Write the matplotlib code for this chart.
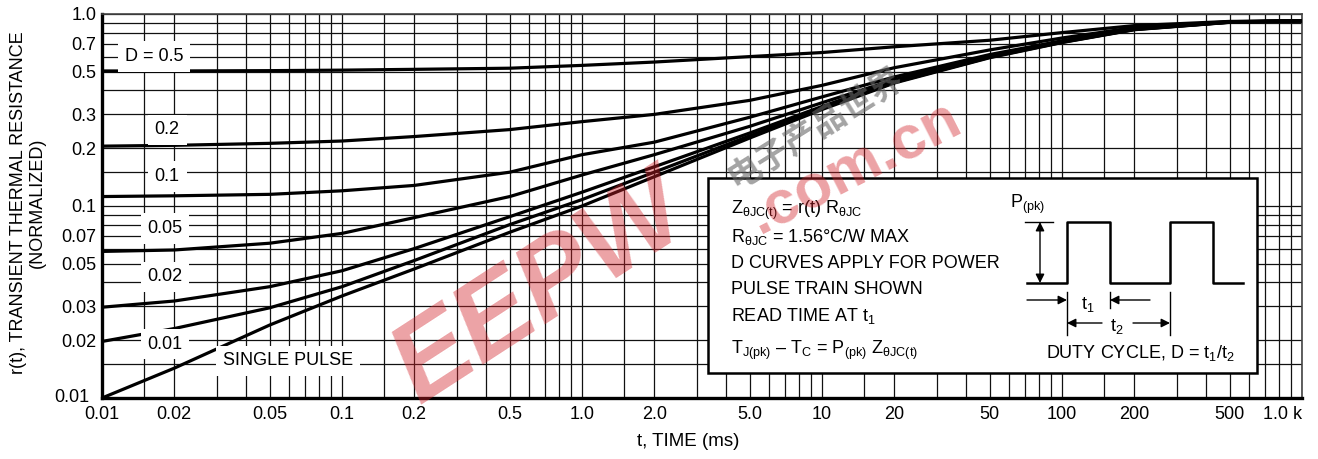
import matplotlib
matplotlib.use("Agg")
import matplotlib.pyplot as plt
from matplotlib import font_manager
from matplotlib.ticker import FixedLocator, NullFormatter
from matplotlib.patches import Rectangle, FancyArrowPatch
from matplotlib.lines import Line2D

names = {f.name for f in font_manager.fontManager.ttflist}
FONT = "Liberation Sans Narrow" if "Liberation Sans Narrow" in names else "Liberation Sans"

plt.rcParams["font.family"] = [FONT, "DejaVu Sans"]
plt.rcParams["mathtext.fontset"] = "custom"
plt.rcParams["mathtext.rm"] = FONT
plt.rcParams["mathtext.it"] = FONT
plt.rcParams["mathtext.bf"] = FONT

# pulse width (ms) and normalized transient thermal resistance
t_ms = [0.01, 0.02, 0.05, 0.1, 0.2, 0.5, 1, 2, 5, 10, 20, 50, 100, 200, 500, 1000]
r_d05 = [0.505, 0.505, 0.507, 0.510, 0.515, 0.522, 0.540, 0.562, 0.600, 0.630, 0.675, 0.730, 0.800, 0.870, 0.915, 0.922]
r_d02 = [0.205, 0.207, 0.212, 0.218, 0.230, 0.250, 0.275, 0.300, 0.355, 0.425, 0.525, 0.650, 0.750, 0.850, 0.912, 0.922]
r_d01 = [0.112, 0.113, 0.115, 0.120, 0.128, 0.150, 0.185, 0.215, 0.290, 0.370, 0.470, 0.615, 0.725, 0.840, 0.910, 0.922]
r_d005 = [0.058, 0.059, 0.064, 0.072, 0.087, 0.112, 0.145, 0.185, 0.260, 0.345, 0.455, 0.605, 0.720, 0.835, 0.908, 0.922]
r_d002 = [0.0297, 0.032, 0.038, 0.046, 0.060, 0.088, 0.118, 0.160, 0.240, 0.330, 0.445, 0.600, 0.715, 0.832, 0.907, 0.922]
r_d001 = [0.0197, 0.023, 0.0295, 0.038, 0.052, 0.080, 0.108, 0.150, 0.232, 0.322, 0.440, 0.595, 0.712, 0.830, 0.906, 0.922]
r_single = [0.010, 0.0143, 0.024, 0.034, 0.047, 0.073, 0.100, 0.142, 0.226, 0.318, 0.437, 0.592, 0.710, 0.828, 0.905, 0.922]

curves = [r_d05, r_d02, r_d01, r_d005, r_d002, r_d001, r_single]
curve_labels = ["D = 0.5", "0.2", "0.1", "0.05", "0.02", "0.01", "SINGLE PULSE"]
label_pos = [(0.0165, 0.60), (0.0187, 0.249), (0.0187, 0.143), (0.0183, 0.0766),
             (0.0183, 0.0427), (0.0183, 0.0191), (0.0596, 0.0156)]

x_ticks = [0.01, 0.02, 0.05, 0.1, 0.2, 0.5, 1, 2, 5, 10, 20, 50, 100, 200, 500, 1000]
x_ticklabels = ["0.01", "0.02", "0.05", "0.1", "0.2", "0.5", "1.0", "2.0", "5.0",
                "10", "20", "50", "100", "200", "500", "1.0 k"]
y_ticks = [0.01, 0.02, 0.03, 0.05, 0.07, 0.1, 0.2, 0.3, 0.5, 0.7, 1.0]
y_ticklabels = ["", "0.02", "0.03", "0.05", "0.07", "0.1", "0.2", "0.3", "0.5", "0.7", "1.0"]
grid_mults = [1, 1.5, 2, 3, 4, 5, 6, 7, 8, 9]

W, H = 1318, 459


def fpx(x, y):
    # image pixel -> figure fraction
    return (x / W, 1 - y / H)


fig = plt.figure(figsize=(W / 100, H / 100), dpi=100)
ax = fig.add_axes([102 / W, 1 - 398 / H, 1200 / W, 384 / H])
ax.set_xscale("log")
ax.set_yscale("log")
ax.set_xlim(0.01, 1000)
ax.set_ylim(0.01, 1.0)

xgrid = [m * 10.0 ** k for k in range(-2, 3) for m in grid_mults] + [1000]
ygrid = [m * 10.0 ** k for k in range(-2, 0) for m in grid_mults] + [1.0]
ax.xaxis.set_major_locator(FixedLocator(x_ticks))
ax.xaxis.set_minor_locator(FixedLocator([v for v in xgrid if v not in x_ticks]))
ax.yaxis.set_major_locator(FixedLocator(y_ticks))
ax.yaxis.set_minor_locator(FixedLocator([v for v in ygrid if v not in y_ticks]))
ax.set_xticklabels(x_ticklabels)
ax.set_yticklabels(y_ticklabels)
ax.xaxis.set_minor_formatter(NullFormatter())
ax.yaxis.set_minor_formatter(NullFormatter())
ax.tick_params(which="both", length=0, labelsize=13)
ax.tick_params(axis="x", pad=6)
ax.tick_params(axis="y", pad=4)
ax.get_xticklabels()[-1].set_horizontalalignment("right")
ax.grid(which="both", color="#111111", lw=0.9)

for side in ["left", "bottom"]:
    ax.spines[side].set_linewidth(2.4)
for side in ["top", "right"]:
    ax.spines[side].set_linewidth(1.2)
    ax.spines[side].set_color("#444444")

ax.annotate("0.01", xy=(0, 0.01), xycoords=("axes fraction", "data"), xytext=(-9, 0),
            textcoords="offset points", ha="right", va="center", fontsize=13)

for r, lab, (lx, ly) in zip(curves, curve_labels, label_pos):
    ax.plot(t_ms, r, color="black", lw=2.3, solid_joinstyle="round", zorder=3)
    ax.text(lx, ly, lab, fontsize=13, ha="center", va="center", zorder=4,
            bbox=dict(fc="white", ec="none", pad=5))

fig.text(*fpx(688, 441), "t, TIME (ms)", fontsize=13.5, ha="center", va="center")
fig.text(*fpx(28, 203), "r(t), TRANSIENT THERMAL RESISTANCE\n(NORMALIZED)", fontsize=13,
         rotation=90, ha="center", va="center", multialignment="center", linespacing=1.1)

# inset box with notes and pulse train
x0, y0 = fpx(708, 373)
x1, y1 = fpx(1257, 178)
fig.add_artist(Rectangle((x0, y0), x1 - x0, y1 - y0, transform=fig.transFigure,
                         fc="white", ec="black", lw=1.8, zorder=5))

notes = [
    (210, r"Z$_{\theta JC(t)}$ = r(t) R$_{\theta JC}$"),
    (237, r"R$_{\theta JC}$ = 1.56°C/W MAX"),
    (264, "D CURVES APPLY FOR POWER"),
    (290, "PULSE TRAIN SHOWN"),
    (316, r"READ TIME AT t$_1$"),
    (350, r"T$_{J(pk)}$ – T$_C$ = P$_{(pk)}$ Z$_{\theta JC(t)}$"),
]
for yy, s in notes:
    fig.text(*fpx(731, yy), s, fontsize=13, ha="left", va="center", zorder=6)

wave_x = [1027, 1067, 1067, 1110, 1110, 1170, 1170, 1213, 1213, 1243]
wave_y = [283, 283, 222, 222, 283, 283, 222, 222, 283, 283]
pts = [fpx(a, b) for a, b in zip(wave_x, wave_y)]
fig.add_artist(Line2D([p[0] for p in pts], [p[1] for p in pts], transform=fig.transFigure,
                      color="black", lw=1.8, zorder=6))


def seg(xa, ya, xb, yb):
    (ax0, ay0), (bx0, by0) = fpx(xa, ya), fpx(xb, yb)
    fig.add_artist(Line2D([ax0, bx0], [ay0, by0], transform=fig.transFigure,
                          color="black", lw=1.0, zorder=6))


def arrow(xa, ya, xb, yb, style="-|>"):
    fig.add_artist(FancyArrowPatch(
        fpx(xa, ya), fpx(xb, yb), transform=fig.transFigure, arrowstyle=style,
        mutation_scale=13, color="black", lw=1.0, shrinkA=0, shrinkB=0, zorder=6))


seg(1025, 222, 1053, 222)
arrow(1040, 222, 1040, 283, "<|-|>")
seg(1067, 292, 1067, 335)
seg(1110, 292, 1110, 308)
seg(1170, 292, 1170, 335)
arrow(1027, 300, 1067, 300)
arrow(1150, 300, 1110, 300)
arrow(1102, 323, 1067, 323)
arrow(1133, 323, 1170, 323)

fig.text(*fpx(1010, 204), r"P$_{(pk)}$", fontsize=13, ha="left", va="center", zorder=6)
fig.text(*fpx(1088, 304), r"t$_1$", fontsize=13, ha="center", va="center", zorder=6)
fig.text(*fpx(1117, 327), r"t$_2$", fontsize=13, ha="center", va="center", zorder=6)
fig.text(*fpx(1140, 353), r"DUTY CYCLE, D = t$_1$/t$_2$", fontsize=13, ha="center",
         va="center", zorder=6)

# site watermark
fig.text(*fpx(540, 292), "EEPW", fontsize=80, fontweight="bold", fontstyle="italic",
         family=["Liberation Sans", "DejaVu Sans"], color="#d2232a", alpha=0.42,
         rotation=33, ha="center", va="center", zorder=7)
fig.text(*fpx(855, 168), ".com.cn", fontsize=44, fontweight="bold",
         family=["Liberation Sans", "DejaVu Sans"], color="#d2232a", alpha=0.42,
         rotation=27, ha="center", va="center", zorder=7)
fig.text(*fpx(815, 128), "电子产品世界", fontsize=24, fontweight="bold",
         family=["Noto Sans CJK SC", "DejaVu Sans"], color="#666666", alpha=0.6,
         rotation=32, ha="center", va="center", zorder=7)

fig.savefig("out.png", dpi=100)
